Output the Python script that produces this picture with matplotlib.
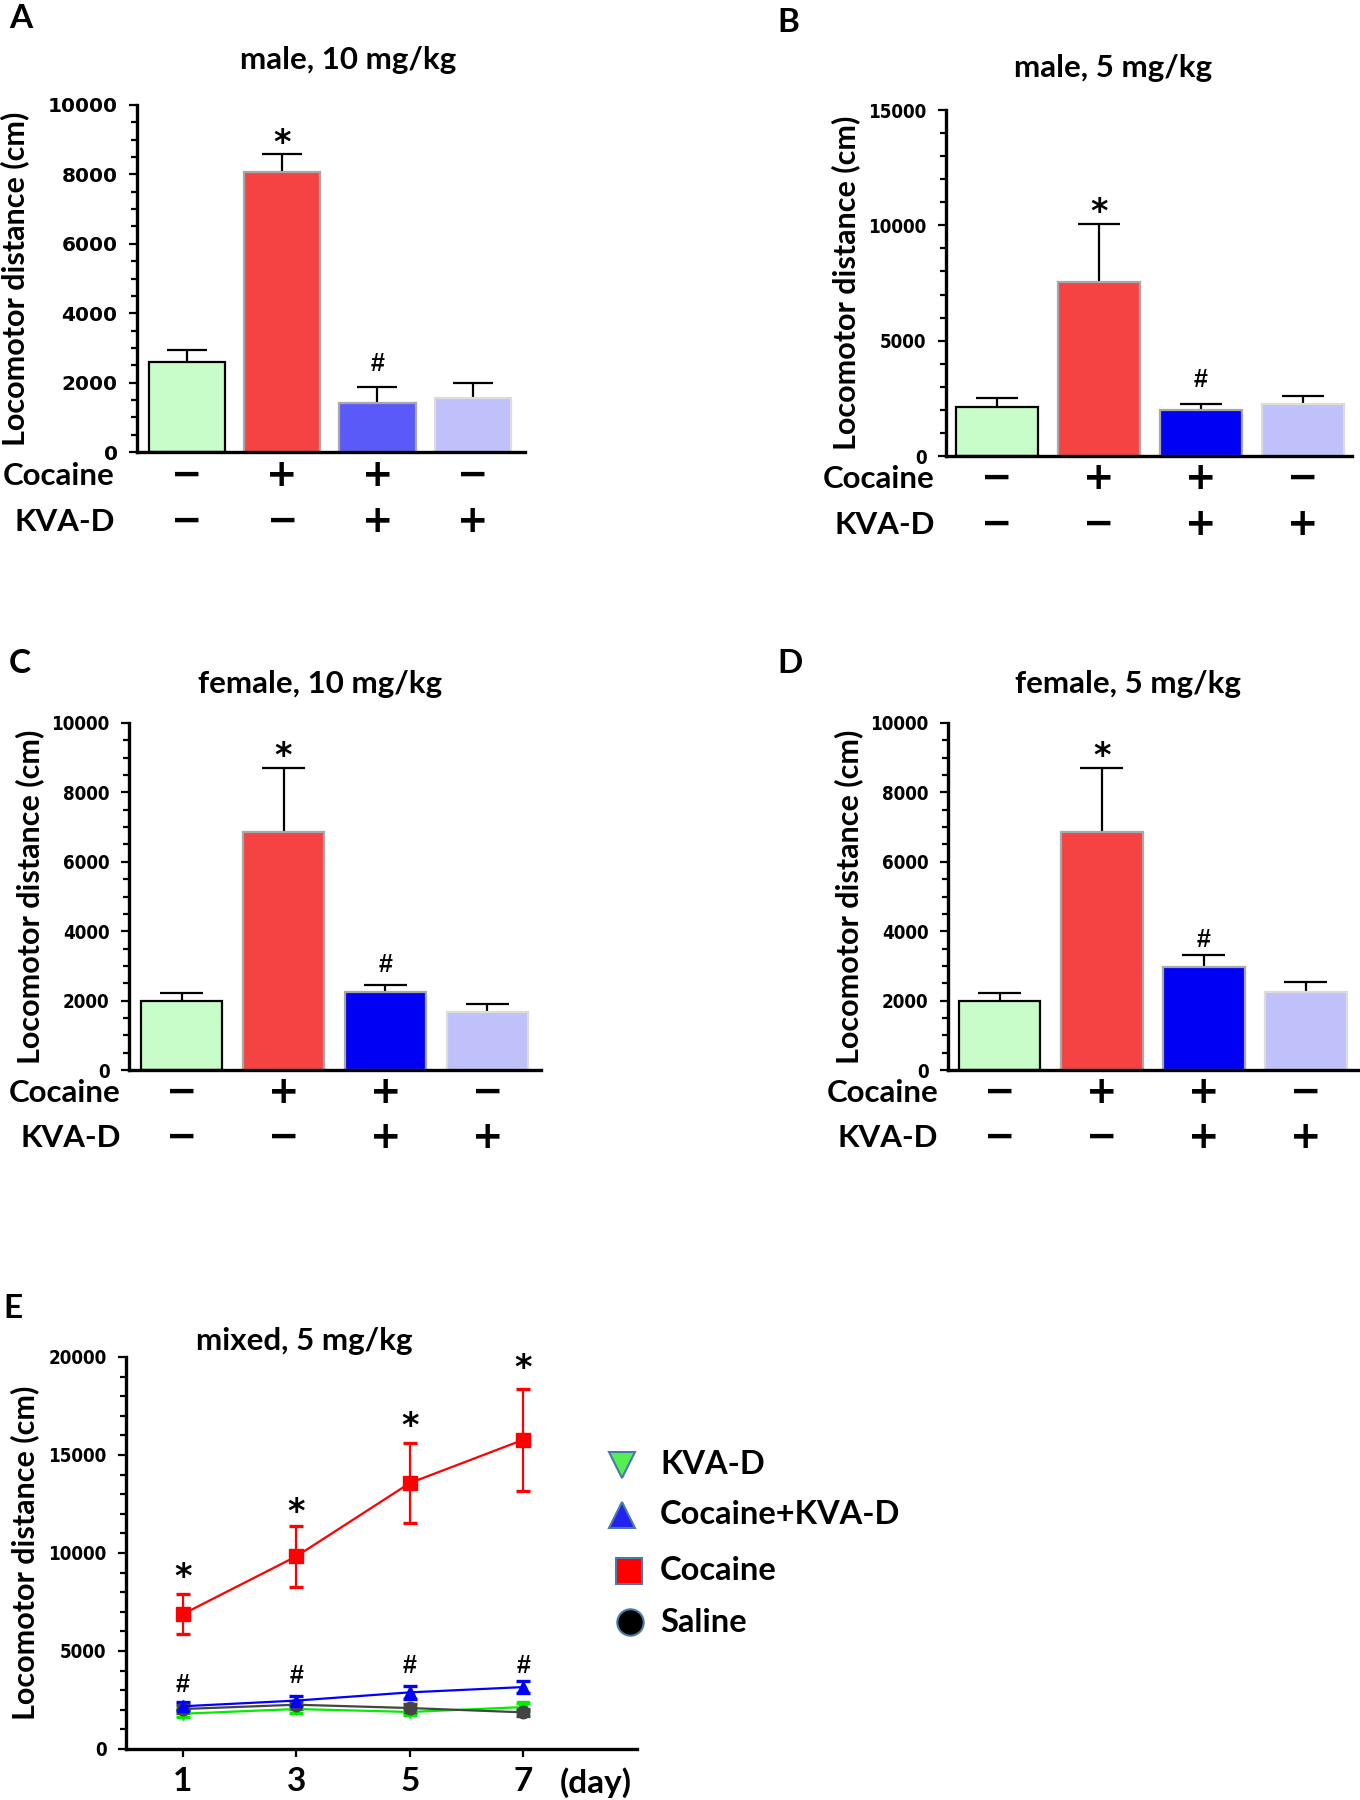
import numpy as np
import matplotlib
matplotlib.use('Agg')
import matplotlib.pyplot as plt
import matplotlib.transforms as mtransforms
from matplotlib.ticker import MultipleLocator
from matplotlib.lines import Line2D
from matplotlib.font_manager import FontProperties

plt.rcParams['font.family'] = ['Lato', 'DejaVu Sans']

W, H = 1360, 1800

# ---- data ----
cocaine_signs = ['−', '+', '+', '−']
kvad_signs = ['−', '−', '+', '+']

male10_mean = [2590, 8080, 1420, 1570]
male10_sem = [340, 510, 440, 420]
male5_mean = [2140, 7530, 1990, 2250]
male5_sem = [390, 2510, 250, 350]
female10_mean = [1990, 6850, 2250, 1680]
female10_sem = [220, 1860, 200, 210]
female5_mean = [1990, 6860, 2980, 2260]
female5_sem = [220, 1850, 330, 270]

days = [1, 3, 5, 7]
kvad_line = [1800, 2040, 1890, 2140]
kvad_err = [180, 180, 180, 200]
cockvad_line = [2180, 2470, 2890, 3160]
cockvad_err = [200, 250, 340, 320]
cocaine_line = [6880, 9830, 13570, 15780]
cocaine_err = [1010, 1560, 2020, 2610]
saline_line = [2040, 2260, 2090, 1870]
saline_err = [200, 200, 220, 180]

star_E = [9230, 12550, 16890, 19860]
hash_E = [3280, 3740, 4220, 4220]

legend_labels = ['KVA-D', 'Cocaine+KVA-D', 'Cocaine', 'Saline']

BAR_COLORS_A = ['#c8fcc8', '#f54242', '#5a5af8', '#c0c0fa']
BAR_COLORS = ['#c8fcc8', '#f54242', '#0000f5', '#c0c0fa']
BAR_EDGES = ['#000000', '#a8a8a8', '#a8a8a8', '#dcdcdc']

STAR_SIZE = 24
HASH_SIZE = 18

fig = plt.figure(figsize=(W / 100, H / 100), dpi=100)


def fx(x):
    return x / W


def fy(y):
    return 1 - y / H


def add_axes_px(left, top, right, bottom):
    return fig.add_axes([left / W, 1 - bottom / H, (right - left) / W, (bottom - top) / H])


def style_axis(ax, tickfont):
    for s in ['top', 'right']:
        ax.spines[s].set_visible(False)
    for s in ['left', 'bottom']:
        ax.spines[s].set_linewidth(2.4)
    ax.tick_params(axis='y', which='major', length=6, width=1.6, direction='out', pad=8)
    ax.tick_params(axis='y', which='minor', length=4, width=1.6, direction='out')
    for lab in ax.get_yticklabels():
        lab.set_fontproperties(tickfont)


def mark(ax, x, y, s, size):
    # asterisk sits high in its em box: anchor on the baseline and shift down
    if s == '*':
        ax.annotate(s, (x, y), xytext=(0, -0.555 * size), textcoords='offset points',
                    ha='center', va='baseline', fontsize=size, fontweight='bold',
                    family='DejaVu Sans')
    else:
        ax.text(x, y, s, ha='center', va='center', fontsize=size, fontweight='bold',
                family='Liberation Sans')


def bar_panel(box, means, sems, ymax, major, minor, colors, xlim, title, title_pos,
              letter, letter_pos, ylabel_x, row_right, row_y, star_y, hash_y, tickfont):
    ax = add_axes_px(*box)
    x = np.arange(4)
    ax.bar(x, means, width=0.8, color=colors, edgecolor=BAR_EDGES, linewidth=1.6, zorder=2)
    tops = np.array(means) + np.array(sems)
    ax.vlines(x, means, tops, color='black', lw=1.6, zorder=1)
    ax.hlines(tops, x - 0.21, x + 0.21, color='black', lw=1.6, zorder=1)
    ax.set_xlim(*xlim)
    ax.set_ylim(0, ymax)
    ax.set_xticks([])
    ax.yaxis.set_major_locator(MultipleLocator(major))
    ax.yaxis.set_minor_locator(MultipleLocator(minor))
    style_axis(ax, tickfont)
    ax.set_ylabel('Locomotor distance (cm)', fontsize=22, fontweight='bold')
    # label coords are the right edge of the rotated text, so add ~16 px to the centre
    ax.yaxis.set_label_coords((ylabel_x + 16 - box[0]) / (box[2] - box[0]), 0.5)
    mark(ax, 1, star_y, '*', STAR_SIZE)
    mark(ax, 2, hash_y, '#', HASH_SIZE)
    fig.text(fx(title_pos[0]), fy(title_pos[1]), title, ha='center', va='center',
             fontsize=22.5, fontweight='bold')
    fig.text(fx(letter_pos[0]), fy(letter_pos[1]), letter, ha='left', va='center',
             fontsize=24, fontweight='bold')
    trans = mtransforms.blended_transform_factory(ax.transData, fig.transFigure)
    for name, signs, yy in [('Cocaine', cocaine_signs, row_y[0]), ('KVA-D', kvad_signs, row_y[1])]:
        fig.text(fx(row_right), fy(yy), name, ha='right', va='center', fontsize=22.5,
                 fontweight='bold')
        for i, s in enumerate(signs):
            ax.text(i, fy(yy), s, transform=trans, ha='center', va='center',
                    fontsize=27, fontweight='bold', family='DejaVu Sans')
    return ax


tfA = FontProperties(family='DejaVu Sans', weight='bold', size=14.5)
tfC = FontProperties(family='DejaVu Sans', stretch='condensed', weight='bold', size=13.5)

bar_panel((137, 105, 525, 452), male10_mean, male10_sem, 10000, 2000, 500, BAR_COLORS_A,
          (-0.525, 3.55), 'male, 10 mg/kg', (348, 60), 'A', (9, 19), 13, 115,
          (476, 522), 9140, 2550, tfA)
bar_panel((946, 110, 1352, 456), male5_mean, male5_sem, 15000, 5000, 1000, BAR_COLORS,
          (-0.5, 3.48), 'male, 5 mg/kg', (1113, 68), 'B', (777, 22), 844, 935,
          (479, 525), 10950, 3300, tfC)
bar_panel((129, 723, 541, 1070), female10_mean, female10_sem, 10000, 2000, 500, BAR_COLORS,
          (-0.515, 3.525), 'female, 10 mg/kg', (320, 684), 'C', (9, 664), 28, 121,
          (1093, 1138), 9280, 3030, tfC)
bar_panel((948, 723, 1360, 1070), female5_mean, female5_sem, 10000, 2000, 500, BAR_COLORS,
          (-0.505, 3.53), 'female, 5 mg/kg', (1128, 684), 'D', (777, 664), 847, 938,
          (1093, 1138), 9280, 3750, tfC)

# ---- panel E ----
axE = add_axes_px(126, 1357, 637, 1749)
series = [
    (kvad_line, kvad_err, '#00ee00', 'v', 9),
    (saline_line, saline_err, '#444444', 'o', 9),
    (cockvad_line, cockvad_err, '#0000ff', '^', 9),
    (cocaine_line, cocaine_err, '#ff0000', 's', 9.5),
]
for yv, ye, col, mk, ms in series:
    axE.errorbar(days, yv, yerr=ye, color=col, marker=mk, ms=ms, lw=1.6,
                 elinewidth=1.6, capsize=5, capthick=2.4)
axE.set_xlim(0, 9)
axE.set_ylim(0, 20000)
axE.set_xticks(days)
axE.set_xticklabels([str(d) for d in days], fontsize=24, fontweight='bold')
axE.tick_params(axis='x', length=6, width=1.6, pad=7)
axE.yaxis.set_major_locator(MultipleLocator(5000))
axE.yaxis.set_minor_locator(MultipleLocator(1000))
style_axis(axE, tfC)
axE.set_ylabel('Locomotor distance (cm)', fontsize=22, fontweight='bold')
axE.yaxis.set_label_coords((23 + 16 - 126) / 511, 0.5)
for d, s, h in zip(days, star_E, hash_E):
    mark(axE, d, s, '*', STAR_SIZE)
    mark(axE, d, h, '#', HASH_SIZE)
fig.text(fx(560), fy(1783), '(day)', ha='left', va='center', fontsize=24, fontweight='bold')
fig.text(fx(304), fy(1341), 'mixed, 5 mg/kg', ha='center', va='center', fontsize=22.5,
         fontweight='bold')
fig.text(fx(3), fy(1309), 'E', ha='left', va='center', fontsize=24, fontweight='bold')

# legend
leg_markers = ['v', '^', 's', 'o']
leg_colors = ['#55ee55', '#2222ee', '#ff0000', '#000000']
leg_y = [1465, 1515, 1571, 1622]
leg_mx = [622, 622, 629, 630]
for lab, mk, col, yy, mx in zip(legend_labels, leg_markers, leg_colors, leg_y, leg_mx):
    fig.add_artist(Line2D([fx(mx)], [fy(yy)], transform=fig.transFigure, marker=mk,
                          ms=19, mfc=col, mec='#4a7aa8', mew=1.5, ls='none'))
    fig.text(fx(660), fy(yy), lab, ha='left', va='center', fontsize=23.5, fontweight='bold')

fig.savefig('out.png', dpi=100)
